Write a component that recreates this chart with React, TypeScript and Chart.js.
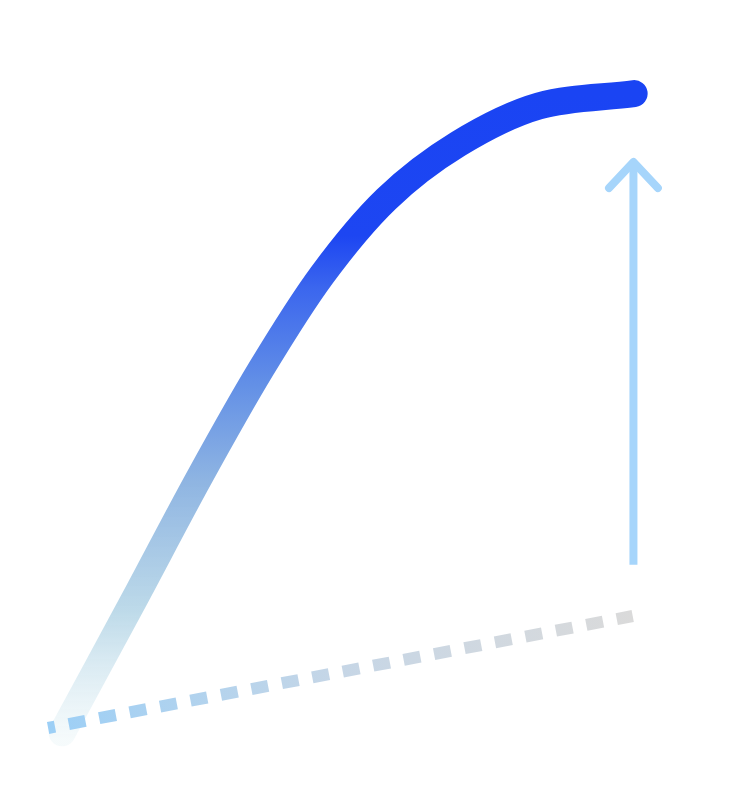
import { useEffect, useRef } from "react"
import { Chart, registerables } from "chart.js"

Chart.register(...registerables)

// growth curve (x in 0-100 units, y in 0-100 units)
const curveX = [8.4, 18.1, 26.9, 35.3, 43.5, 52.2, 61.9, 72.8, 85.7]
const curveY = [8.4, 25, 40.25, 53.9, 65.6, 75.1, 82, 86.75, 88.3]

// dashed baseline
const baseX = [6.5, 85.5]
const baseY = [9, 23]

// arrow shaft + head
const shaftX = [85.6, 85.6]
const shaftY = [29.4, 79.6]
const headX = [82.3, 85.6, 88.9]
const headY = [76.5, 79.75, 76.5]

const toPoints = (xs: number[], ys: number[]) => xs.map((x, i) => ({ x, y: ys[i] }))

export default function App() {
  const canvasRef = useRef<HTMLCanvasElement>(null)

  useEffect(() => {
    document.body.style.margin = "0"
    if (!canvasRef.current) return
    const ctx = canvasRef.current.getContext("2d")
    if (!ctx) return

    const curveGradient = (context: any) => {
      const chart = context.chart
      const { chartArea, scales } = chart
      if (!chartArea) return "#1a44f3"
      const y0 = scales.y.getPixelForValue(curveY[0] - 1)
      const y1 = scales.y.getPixelForValue(curveY[curveY.length - 1])
      const g = chart.ctx.createLinearGradient(0, y0, 0, y1)
      g.addColorStop(0, "rgba(236,246,248,0.5)")
      g.addColorStop(0.2, "rgba(186,216,232,0.95)")
      g.addColorStop(0.4, "#8fb5e2")
      g.addColorStop(0.55, "#6390e6")
      g.addColorStop(0.7, "#3b66ee")
      g.addColorStop(0.78, "#1d46f2")
      g.addColorStop(1, "#1a44f3")
      return g
    }

    const baseGradient = (context: any) => {
      const chart = context.chart
      const { chartArea, scales } = chart
      if (!chartArea) return "#c8d8e8"
      const x0 = scales.x.getPixelForValue(baseX[0])
      const x1 = scales.x.getPixelForValue(baseX[1])
      const g = chart.ctx.createLinearGradient(x0, 0, x1, 0)
      g.addColorStop(0, "#9ccff6")
      g.addColorStop(0.5, "#c6d6e6")
      g.addColorStop(1, "#dadada")
      return g
    }

    const chart = new Chart(ctx, {
      type: "line",
      data: {
        datasets: [
          {
            data: toPoints(baseX, baseY),
            borderColor: baseGradient,
            borderWidth: 12,
            borderDash: [17, 14],
            borderDashOffset: 10,
            pointRadius: 0,
            tension: 0,
          },
          {
            data: toPoints(shaftX, shaftY),
            borderColor: "#a6d5fb",
            borderWidth: 8,
            pointRadius: 0,
          },
          {
            data: toPoints(headX, headY),
            borderColor: "#a6d5fb",
            borderWidth: 8,
            borderCapStyle: "round",
            borderJoinStyle: "round",
            pointRadius: 0,
          },
          {
            data: toPoints(curveX, curveY),
            borderColor: curveGradient,
            borderWidth: 27,
            borderCapStyle: "round",
            borderJoinStyle: "round",
            tension: 0.33,
            pointRadius: 0,
          },
        ],
      },
      options: {
        animation: false,
        responsive: false,
        maintainAspectRatio: false,
        layout: { padding: 0 },
        plugins: {
          legend: { display: false },
          tooltip: { enabled: false },
        },
        scales: {
          x: { type: "linear", min: 0, max: 100, display: false },
          y: { type: "linear", min: 0, max: 100, display: false },
        },
      },
    })

    return () => chart.destroy()
  }, [])

  return (
    <div style={{ width: 740, height: 800, background: "#fff" }}>
      <canvas ref={canvasRef} width={740} height={800}></canvas>
    </div>
  )
}
